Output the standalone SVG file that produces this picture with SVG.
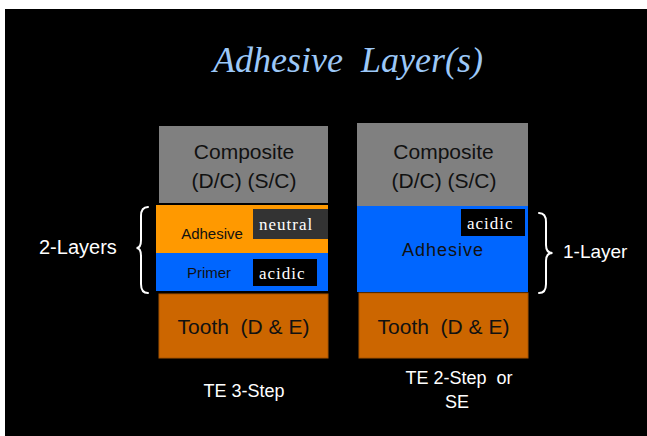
<svg xmlns="http://www.w3.org/2000/svg" width="647" height="436" viewBox="0 0 647 436">
  <style>
    .sans { font-family: "Liberation Sans", Arial, sans-serif; }
    .serif { font-family: "Liberation Serif", "Times New Roman", serif; fill: #ffffff; font-size: 17px; letter-spacing: 1px; }
    .dark { fill: #111111; }
    .white { fill: #ffffff; }
    .mid { text-anchor: middle; }
    .brace { fill: none; stroke: #ffffff; stroke-width: 2; stroke-linecap: round; }
    .composite { fill: #808080; }
    .orange { fill: #ff9900; }
    .blue { fill: #0066ff; }
    .tooth { fill: #cc6600; stroke: #a85400; stroke-width: 1; }
  </style>

  <!-- page and slide background -->
  <rect x="0" y="0" width="647" height="436" fill="#ffffff"/>
  <rect x="5" y="9" width="642" height="427" fill="#000000"/>

  <!-- title -->
  <g id="title">
    <text x="348" y="72" font-family="'Liberation Serif', 'DejaVu Serif', serif" font-style="italic" font-size="36" fill="#9cc8f8" text-anchor="middle" xml:space="preserve">Adhesive  Layer(s)</text>
  </g>

  <!-- left stack: three-step etch and rinse -->
  <g id="left-composite">
    <rect class="composite" x="159" y="126" width="169" height="77"/>
    <text class="sans dark mid" x="244" y="159" font-size="21">Composite</text>
    <text class="sans dark mid" x="244" y="188" font-size="21">(D/C) (S/C)</text>
  </g>
  <g id="left-adhesive">
    <rect class="orange" x="156" y="205" width="172" height="48"/>
    <text class="sans dark mid" x="212" y="239" font-size="15">Adhesive</text>
    <rect x="253" y="209" width="75" height="30" fill="#333333"/>
    <text class="serif" x="259" y="230">neutral</text>
  </g>
  <g id="left-primer">
    <rect class="blue" x="156" y="253" width="172" height="38"/>
    <text class="sans dark mid" x="209" y="278" font-size="15">Primer</text>
    <rect x="253" y="259" width="64" height="27" fill="#000000"/>
    <text class="serif" x="259" y="279">acidic</text>
  </g>
  <g id="left-tooth">
    <rect class="tooth" x="159" y="294" width="169" height="64"/>
    <text class="sans dark mid" x="243.5" y="334" font-size="21" xml:space="preserve">Tooth  (D &amp; E)</text>
  </g>

  <!-- right stack: two-step etch and rinse or self-etch -->
  <g id="right-composite">
    <rect class="composite" x="357" y="123" width="171" height="83"/>
    <text class="sans dark mid" x="443.5" y="159" font-size="21">Composite</text>
    <text class="sans dark mid" x="444" y="188" font-size="21">(D/C) (S/C)</text>
  </g>
  <g id="right-adhesive">
    <rect class="blue" x="357" y="206" width="171" height="86"/>
    <text class="sans dark mid" x="443" y="256" font-size="18" letter-spacing="1">Adhesive</text>
    <rect x="461" y="209" width="64" height="27" fill="#000000"/>
    <text class="serif" x="467" y="228.5">acidic</text>
  </g>
  <g id="right-tooth">
    <rect class="tooth" x="359" y="293" width="169" height="65"/>
    <text class="sans dark mid" x="443.5" y="334" font-size="21" xml:space="preserve">Tooth  (D &amp; E)</text>
  </g>

  <!-- braces marking the layer groups -->
  <g id="connectors">
    <path class="brace" d="M148,207 Q141,207 141,216 L141,240 Q141,248 136.5,248 Q141,248 141,256 L141,284 Q141,293 148,293"/>
    <path class="brace" d="M539,213 Q546,213 546,222 L546,245 Q546,253 552.5,253 Q546,253 546,261 L546,284 Q546,293 539,293"/>
  </g>

  <g id="label-two-layers">
    <text class="sans white" x="39" y="254" font-size="20">2-Layers</text>
  </g>
  <g id="label-one-layer">
    <text class="sans white" x="563" y="258" font-size="19">1-Layer</text>
  </g>

  <!-- captions -->
  <g id="caption-left">
    <text class="sans white mid" x="244" y="397" font-size="18">TE 3-Step</text>
  </g>
  <g id="caption-right">
    <text class="sans white mid" x="459" y="384" font-size="18" xml:space="preserve">TE 2-Step  or</text>
    <text class="sans white mid" x="457" y="408" font-size="18">SE</text>
  </g>
</svg>
